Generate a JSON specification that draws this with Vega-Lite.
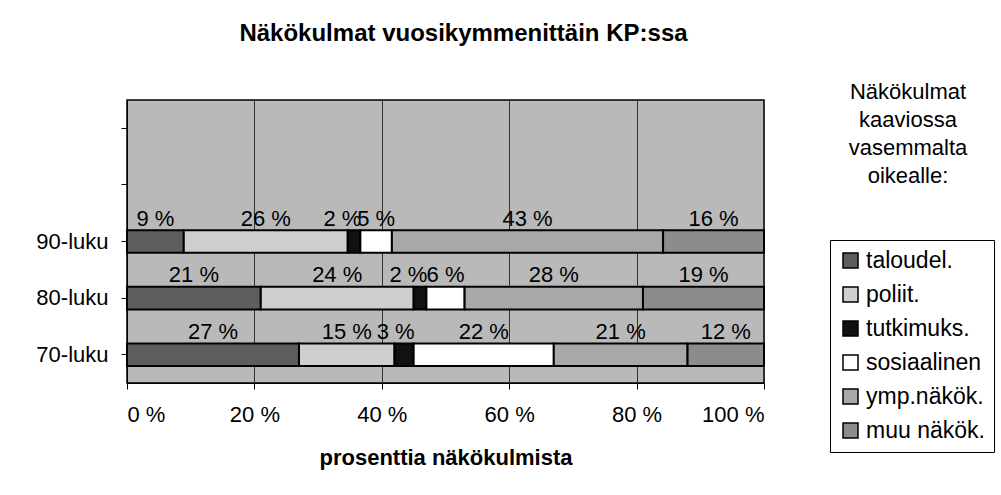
{
  "$schema": "https://vega.github.io/schema/vega-lite/v6.json",
  "autosize": {"type": "none"},
  "width": 637,
  "height": 283,
  "padding": {"left": 127, "top": 100, "right": 237, "bottom": 112},
  "background": "white",
  "title": {
    "text": "Näkökulmat vuosikymmenittäin KP:ssa",
    "fontSize": 24,
    "fontWeight": "bold",
    "color": "black",
    "offset": 36,
    "dx": 18
  },
  "config": {
    "font": "Liberation Sans",
    "view": {"fill": "#b9b9b9", "stroke": "black", "strokeWidth": 1.5}
  },
  "data": {
    "values": [
      {"period": "90-luku", "cat": "taloudel.", "order": 1, "value": 9, "label": "9 %"},
      {"period": "90-luku", "cat": "poliit.", "order": 2, "value": 26, "label": "26 %"},
      {"period": "90-luku", "cat": "tutkimuks.", "order": 3, "value": 2, "label": "2 %"},
      {"period": "90-luku", "cat": "sosiaalinen", "order": 4, "value": 5, "label": "5 %"},
      {"period": "90-luku", "cat": "ymp.näkök.", "order": 5, "value": 43, "label": "43 %"},
      {"period": "90-luku", "cat": "muu näkök.", "order": 6, "value": 16, "label": "16 %"},
      {"period": "80-luku", "cat": "taloudel.", "order": 1, "value": 21, "label": "21 %"},
      {"period": "80-luku", "cat": "poliit.", "order": 2, "value": 24, "label": "24 %"},
      {"period": "80-luku", "cat": "tutkimuks.", "order": 3, "value": 2, "label": "2 %"},
      {"period": "80-luku", "cat": "sosiaalinen", "order": 4, "value": 6, "label": "6 %"},
      {"period": "80-luku", "cat": "ymp.näkök.", "order": 5, "value": 28, "label": "28 %"},
      {"period": "80-luku", "cat": "muu näkök.", "order": 6, "value": 19, "label": "19 %"},
      {"period": "70-luku", "cat": "taloudel.", "order": 1, "value": 27, "label": "27 %"},
      {"period": "70-luku", "cat": "poliit.", "order": 2, "value": 15, "label": "15 %"},
      {"period": "70-luku", "cat": "tutkimuks.", "order": 3, "value": 3, "label": "3 %"},
      {"period": "70-luku", "cat": "sosiaalinen", "order": 4, "value": 22, "label": "22 %"},
      {"period": "70-luku", "cat": "ymp.näkök.", "order": 5, "value": 21, "label": "21 %"},
      {"period": "70-luku", "cat": "muu näkök.", "order": 6, "value": 12, "label": "12 %"}
    ]
  },
  "transform": [
    {"stack": "value", "groupby": ["period"], "sort": [{"field": "order", "order": "ascending"}], "offset": "normalize", "as": ["x0", "x1"]},
    {"calculate": "(datum.x0 + datum.x1) / 2", "as": "xmid"}
  ],
  "encoding": {
    "y": {
      "field": "period",
      "type": "nominal",
      "scale": {"domain": [" ", "  ", "90-luku", "80-luku", "70-luku"], "paddingInner": 0.6, "paddingOuter": 0.3},
      "axis": {"title": null, "labelFontSize": 22, "labelColor": "black", "labelPadding": 13, "tickColor": "black", "tickSize": 6, "domainColor": "black"}
    }
  },
  "layer": [
    {
      "mark": {"type": "bar", "stroke": "black", "strokeWidth": 2},
      "encoding": {
        "x": {
          "field": "x0",
          "type": "quantitative",
          "axis": {
            "values": [0, 0.2, 0.4, 0.6, 0.8, 1],
            "labelExpr": "format(datum.value * 100, 'd') + ' %'",
            "labelFontSize": 22,
            "labelColor": "black",
            "labelPadding": 15,
            "tickSize": 6,
            "tickColor": "black",
            "domainColor": "black",
            "gridColor": "#333333",
            "title": "prosenttia näkökulmista",
            "titleFontSize": 22,
            "titleColor": "black",
            "titlePadding": 22
          }
        },
        "x2": {"field": "x1"},
        "fill": {
          "field": "cat",
          "type": "nominal",
          "scale": {
            "domain": ["taloudel.", "poliit.", "tutkimuks.", "sosiaalinen", "ymp.näkök.", "muu näkök."],
            "range": ["#5e5e5e", "#cfcfcf", "#111111", "#ffffff", "#a8a8a8", "#8c8c8c"]
          },
          "legend": {
            "orient": "none",
            "legendX": 703,
            "legendY": 140,
            "title": null,
            "padding": 9,
            "strokeColor": "black",
            "fillColor": "white",
            "labelFontSize": 23,
            "labelColor": "black",
            "rowPadding": 10,
            "symbolType": "square",
            "symbolSize": 225,
            "symbolStrokeColor": "black"
          }
        }
      }
    },
    {
      "transform": [{"filter": {"not": {"field": "cat", "equal": "tutkimuks."}}}],
      "mark": {"type": "text", "fontSize": 22, "color": "black", "baseline": "middle", "dy": -23},
      "encoding": {
        "x": {"field": "xmid", "type": "quantitative"},
        "text": {"field": "label"}
      }
    },
    {
      "transform": [{"filter": {"field": "cat", "equal": "tutkimuks."}}],
      "mark": {"type": "text", "fontSize": 22, "color": "black", "baseline": "middle", "align": "right", "dx": 1, "dy": -23},
      "encoding": {
        "x": {"field": "x1", "type": "quantitative"},
        "text": {"field": "label"}
      }
    },
    {
      "mark": {"type": "point", "opacity": 0},
      "encoding": {
        "x": {"field": "xmid", "type": "quantitative"},
        "shape": {
          "datum": "t",
          "legend": {
            "orient": "none",
            "legendX": 722,
            "legendY": -18,
            "title": ["Näkökulmat", "kaaviossa", "vasemmalta", "oikealle:"],
            "titleFontSize": 22,
            "titleFontWeight": "normal",
            "titleColor": "black",
            "titleAlign": "center",
            "titleAnchor": "middle",
            "titleLineHeight": 28,
            "titlePadding": 0,
            "labelExpr": "''",
            "symbolOpacity": 0,
            "symbolSize": 1,
            "labelFontSize": 1
          }
        }
      }
    }
  ]
}
